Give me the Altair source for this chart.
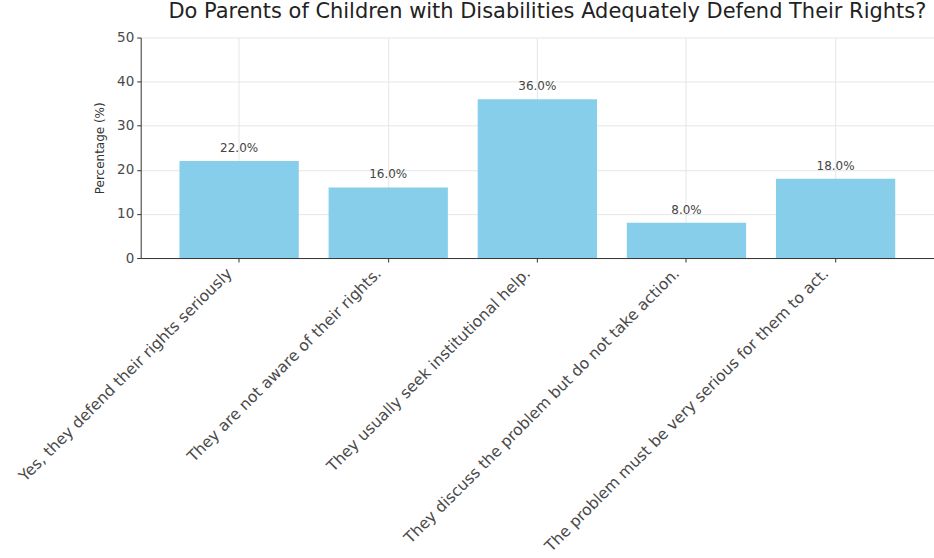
import altair as alt
import pandas as pd

categories = [
    "Yes, they defend their rights seriously",
    "They are not aware of their rights.",
    "They usually seek institutional help.",
    "They discuss the problem but do not take action.",
    "The problem must be very serious for them to act.",
]
percentages = [22.0, 16.0, 36.0, 8.0, 18.0]
y_ticks = [0, 10, 20, 30, 40, 50]

df = pd.DataFrame({"category": categories, "pct": percentages})
df["label"] = [f"{v:.1f}%" for v in percentages]

x_enc = alt.X(
    "category:N",
    sort=categories,
    title=None,
    scale=alt.Scale(paddingInner=0.2, paddingOuter=0.26),
    axis=alt.Axis(
        labelAngle=-45,
        labelAlign="right",
        labelBaseline="bottom",
        labelFontSize=15.6,
        labelColor="#4a4a4a",
        labelFont="DejaVu Sans",
        labelLimit=500,
        grid=True,
        gridColor="#e6e6e6",
        domainColor="#333333",
        tickColor="#333333",
        tickSize=4,
        labelPadding=14,
        labelOffset=-4,
    ),
)

bars = alt.Chart(df).mark_bar(color="#87CEEB").encode(
    x=x_enc,
    y=alt.Y(
        "pct:Q",
        title="Percentage (%)",
        scale=alt.Scale(domain=[0, 50], nice=False),
        axis=alt.Axis(
            values=y_ticks,
            labelFontSize=13.5,
            labelColor="#4a4a4a",
            labelFont="DejaVu Sans",
            titleFont="DejaVu Sans",
            titleFontSize=12,
            titleFontWeight="normal",
            titleColor="#333333",
            gridColor="#e6e6e6",
            domainColor="#333333",
            tickColor="#333333",
            tickSize=4,
            labelPadding=3,
            titlePadding=10,
        ),
    ),
)

text = alt.Chart(df).mark_text(
    dy=-13, fontSize=12, color="#444444", font="DejaVu Sans"
).encode(
    x=alt.X("category:N", sort=categories),
    y="pct:Q",
    text="label:N",
)

chart = (
    (bars + text)
    .properties(
        width=795,
        height=221,
        title=alt.TitleParams(
            "Do Parents of Children with Disabilities Adequately Defend Their Rights?",
            font="DejaVu Sans",
            fontSize=21,
            fontWeight="normal",
            color="#222222",
            anchor="middle",
            offset=9,
            dx=10,
        ),
        autosize=alt.AutoSizeParams(type="none"),
        padding={"left": 141, "top": 37, "right": 0, "bottom": 300},
    )
    .configure_view(stroke=None)
)

chart.save("out.html", embed_options={"renderer": "svg", "actions": False})
